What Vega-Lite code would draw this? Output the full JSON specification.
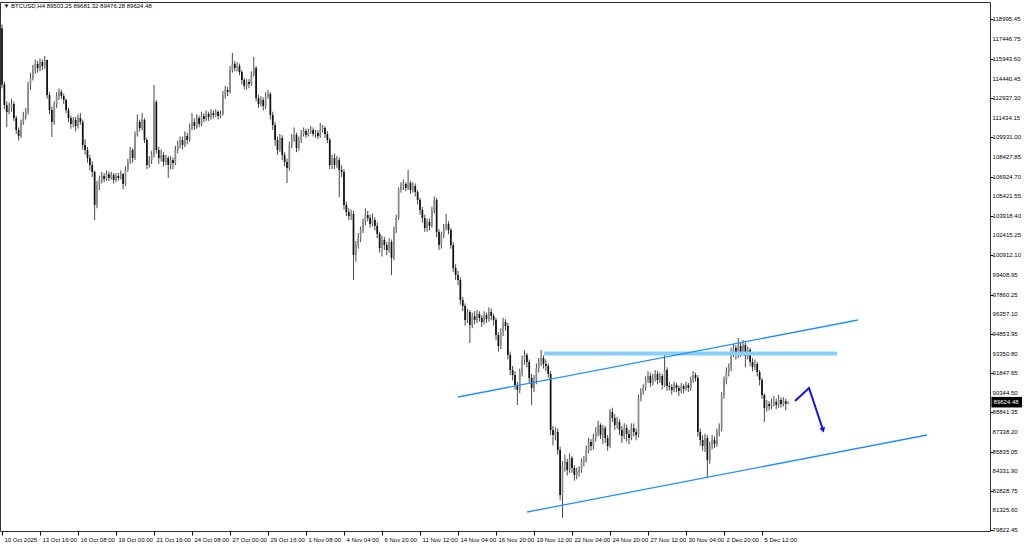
{
"$schema":"https://vega.github.io/schema/vega-lite/v6.json",
"width":990,"height":529,
"autosize":{"type":"none"},
"padding":{"left":0,"top":2,"right":34,"bottom":14},
"background":"white",
"config":{"view":{"stroke":"#333","strokeWidth":1},"font":"Liberation Sans","axis":{"labelFont":"Liberation Sans","labelFontSize":6,"labelColor":"#000","tickColor":"#000","domain":false,"grid":false,"title":null,"labelOverlap":false}},
"datasets":{
"bars":[
{"i":0,"o":118300,"h":118600,"l":113700,"c":114000},
{"i":1,"o":114000,"h":114200,"l":112100,"c":112420},
{"i":2,"o":112420,"h":112700,"l":110730,"c":111883},
{"i":3,"o":111883,"h":112600,"l":111700,"c":112190},
{"i":4,"o":112190,"h":112900,"l":111900,"c":112496},
{"i":5,"o":112496,"h":112700,"l":111200,"c":111423},
{"i":6,"o":111423,"h":111600,"l":110200,"c":110502},
{"i":7,"o":110502,"h":110700,"l":109700,"c":110042},
{"i":8,"o":110042,"h":111300,"l":109900,"c":111116},
{"i":9,"o":111116,"h":111900,"l":110900,"c":111576},
{"i":10,"o":111576,"h":112200,"l":111300,"c":111883},
{"i":11,"o":111883,"h":114200,"l":111700,"c":113953},
{"i":12,"o":113953,"h":114900,"l":113600,"c":114491},
{"i":13,"o":114491,"h":115500,"l":114300,"c":115104},
{"i":14,"o":115104,"h":115900,"l":114800,"c":115564},
{"i":15,"o":115564,"h":115800,"l":114900,"c":115257},
{"i":16,"o":115257,"h":116000,"l":115000,"c":115718},
{"i":17,"o":115718,"h":115900,"l":115100,"c":115411},
{"i":18,"o":115411,"h":116180,"l":115200,"c":115871},
{"i":19,"o":115871,"h":115900,"l":112900,"c":113187},
{"i":20,"o":113187,"h":113400,"l":111700,"c":112036},
{"i":21,"o":112036,"h":112300,"l":109966,"c":111116},
{"i":22,"o":111116,"h":112700,"l":110900,"c":112496},
{"i":23,"o":112496,"h":113400,"l":112200,"c":113110},
{"i":24,"o":113110,"h":113700,"l":112800,"c":113417},
{"i":25,"o":113417,"h":113600,"l":112900,"c":113110},
{"i":26,"o":113110,"h":113300,"l":112500,"c":112803},
{"i":27,"o":112803,"h":112900,"l":111800,"c":112036},
{"i":28,"o":112036,"h":112200,"l":111100,"c":111423},
{"i":29,"o":111423,"h":111600,"l":110600,"c":110962},
{"i":30,"o":110962,"h":111500,"l":110700,"c":111269},
{"i":31,"o":111269,"h":111500,"l":110400,"c":110809},
{"i":32,"o":110809,"h":111700,"l":110600,"c":111423},
{"i":33,"o":111423,"h":111800,"l":110900,"c":111116},
{"i":34,"o":111116,"h":111300,"l":109000,"c":109352},
{"i":35,"o":109352,"h":109800,"l":108600,"c":108968},
{"i":36,"o":108968,"h":109200,"l":108000,"c":108355},
{"i":37,"o":108355,"h":108600,"l":107400,"c":107818},
{"i":38,"o":107818,"h":108100,"l":106900,"c":107281},
{"i":39,"o":107281,"h":107400,"l":103599,"c":104750},
{"i":40,"o":104750,"h":106600,"l":104500,"c":106284},
{"i":41,"o":106284,"h":107000,"l":105900,"c":106667},
{"i":42,"o":106667,"h":107300,"l":106400,"c":106974},
{"i":43,"o":106974,"h":107200,"l":106500,"c":106744},
{"i":44,"o":106744,"h":107400,"l":106600,"c":107127},
{"i":45,"o":107127,"h":107300,"l":106600,"c":106821},
{"i":46,"o":106821,"h":107300,"l":106700,"c":107051},
{"i":47,"o":107051,"h":107200,"l":106400,"c":106667},
{"i":48,"o":106667,"h":107200,"l":106500,"c":106974},
{"i":49,"o":106974,"h":107200,"l":106600,"c":106821},
{"i":50,"o":106821,"h":107400,"l":106700,"c":107127},
{"i":51,"o":107127,"h":107200,"l":105950,"c":106360},
{"i":52,"o":106360,"h":107700,"l":106200,"c":107434},
{"i":53,"o":107434,"h":108300,"l":107300,"c":108048},
{"i":54,"o":108048,"h":109200,"l":107900,"c":108968},
{"i":55,"o":108968,"h":109100,"l":108000,"c":108355},
{"i":56,"o":108355,"h":110400,"l":108200,"c":110119},
{"i":57,"o":110119,"h":111700,"l":110000,"c":111116},
{"i":58,"o":111116,"h":111300,"l":110400,"c":110655},
{"i":59,"o":110655,"h":111800,"l":110500,"c":111269},
{"i":60,"o":111269,"h":111400,"l":109500,"c":109735},
{"i":61,"o":109735,"h":109900,"l":107500,"c":107818},
{"i":62,"o":107818,"h":108500,"l":107600,"c":108201},
{"i":63,"o":108201,"h":108900,"l":107900,"c":108585},
{"i":64,"o":108585,"h":113953,"l":108400,"c":112650},
{"i":65,"o":112650,"h":112800,"l":108700,"c":108968},
{"i":66,"o":108968,"h":109200,"l":107900,"c":108355},
{"i":67,"o":108355,"h":109000,"l":108100,"c":108585},
{"i":68,"o":108585,"h":108800,"l":107700,"c":108048},
{"i":69,"o":108048,"h":108600,"l":107800,"c":108355},
{"i":70,"o":108355,"h":108500,"l":106821,"c":107818},
{"i":71,"o":107818,"h":108500,"l":107500,"c":108201},
{"i":72,"o":108201,"h":108400,"l":107500,"c":107971},
{"i":73,"o":107971,"h":109300,"l":107800,"c":108968},
{"i":74,"o":108968,"h":109700,"l":108700,"c":109352},
{"i":75,"o":109352,"h":110000,"l":109100,"c":109735},
{"i":76,"o":109735,"h":110000,"l":109000,"c":109352},
{"i":77,"o":109352,"h":110400,"l":109200,"c":110042},
{"i":78,"o":110042,"h":110300,"l":109400,"c":109735},
{"i":79,"o":109735,"h":111000,"l":109600,"c":110655},
{"i":80,"o":110655,"h":111800,"l":110500,"c":111116},
{"i":81,"o":111116,"h":111400,"l":110500,"c":110809},
{"i":82,"o":110809,"h":111700,"l":110600,"c":111423},
{"i":83,"o":111423,"h":111600,"l":110700,"c":110962},
{"i":84,"o":110962,"h":111900,"l":110800,"c":111576},
{"i":85,"o":111576,"h":111800,"l":111100,"c":111346},
{"i":86,"o":111346,"h":112000,"l":111200,"c":111729},
{"i":87,"o":111729,"h":111900,"l":111200,"c":111499},
{"i":88,"o":111499,"h":112100,"l":111300,"c":111806},
{"i":89,"o":111806,"h":112000,"l":111400,"c":111653},
{"i":90,"o":111653,"h":112100,"l":111500,"c":111883},
{"i":91,"o":111883,"h":112000,"l":111300,"c":111576},
{"i":92,"o":111576,"h":112000,"l":111400,"c":111729},
{"i":93,"o":111729,"h":113500,"l":111600,"c":113187},
{"i":94,"o":113187,"h":113900,"l":112900,"c":113570},
{"i":95,"o":113570,"h":113800,"l":113100,"c":113417},
{"i":96,"o":113417,"h":115400,"l":113300,"c":115104},
{"i":97,"o":115104,"h":116408,"l":114900,"c":115564},
{"i":98,"o":115564,"h":115800,"l":115000,"c":115257},
{"i":99,"o":115257,"h":115700,"l":115000,"c":115411},
{"i":100,"o":115411,"h":115600,"l":114700,"c":114951},
{"i":101,"o":114951,"h":115100,"l":114000,"c":114337},
{"i":102,"o":114337,"h":114500,"l":113600,"c":113877},
{"i":103,"o":113877,"h":114400,"l":113600,"c":114184},
{"i":104,"o":114184,"h":114400,"l":113700,"c":114030},
{"i":105,"o":114030,"h":115000,"l":113900,"c":114720},
{"i":106,"o":114720,"h":116101,"l":114600,"c":115257},
{"i":107,"o":115257,"h":115400,"l":112700,"c":112957},
{"i":108,"o":112957,"h":113200,"l":112200,"c":112496},
{"i":109,"o":112496,"h":113100,"l":112300,"c":112803},
{"i":110,"o":112803,"h":113000,"l":112000,"c":112343},
{"i":111,"o":112343,"h":113400,"l":112100,"c":113110},
{"i":112,"o":113110,"h":113570,"l":112900,"c":113263},
{"i":113,"o":113263,"h":113400,"l":111300,"c":111653},
{"i":114,"o":111653,"h":111900,"l":110500,"c":110886},
{"i":115,"o":110886,"h":111100,"l":109300,"c":109735},
{"i":116,"o":109735,"h":110000,"l":108600,"c":108968},
{"i":117,"o":108968,"h":110200,"l":108800,"c":109889},
{"i":118,"o":109889,"h":110100,"l":108200,"c":108585},
{"i":119,"o":108585,"h":108800,"l":107700,"c":108048},
{"i":120,"o":108048,"h":108300,"l":106437,"c":107588},
{"i":121,"o":107588,"h":109600,"l":107400,"c":109352},
{"i":122,"o":109352,"h":110200,"l":109100,"c":109889},
{"i":123,"o":109889,"h":110700,"l":109600,"c":110119},
{"i":124,"o":110119,"h":110300,"l":108800,"c":109122},
{"i":125,"o":109122,"h":110000,"l":108900,"c":109735},
{"i":126,"o":109735,"h":110500,"l":109500,"c":110195},
{"i":127,"o":110195,"h":110700,"l":110000,"c":110425},
{"i":128,"o":110425,"h":110600,"l":109900,"c":110119},
{"i":129,"o":110119,"h":110600,"l":110000,"c":110349},
{"i":130,"o":110349,"h":110800,"l":110200,"c":110502},
{"i":131,"o":110502,"h":110700,"l":110000,"c":110195},
{"i":132,"o":110195,"h":110500,"l":109900,"c":110272},
{"i":133,"o":110272,"h":110500,"l":109800,"c":110042},
{"i":134,"o":110042,"h":111039,"l":109900,"c":110502},
{"i":135,"o":110502,"h":110900,"l":110300,"c":110655},
{"i":136,"o":110655,"h":110800,"l":109900,"c":110195},
{"i":137,"o":110195,"h":110400,"l":109500,"c":109735},
{"i":138,"o":109735,"h":109900,"l":107500,"c":107818},
{"i":139,"o":107818,"h":108600,"l":107500,"c":108355},
{"i":140,"o":108355,"h":108700,"l":107500,"c":107818},
{"i":141,"o":107818,"h":108500,"l":107600,"c":108201},
{"i":142,"o":108201,"h":108400,"l":105364,"c":107434},
{"i":143,"o":107434,"h":107800,"l":106900,"c":107281},
{"i":144,"o":107281,"h":107500,"l":104400,"c":104750},
{"i":145,"o":104750,"h":105000,"l":103900,"c":104213},
{"i":146,"o":104213,"h":104500,"l":103600,"c":103906},
{"i":147,"o":103906,"h":104400,"l":103600,"c":104059},
{"i":148,"o":104059,"h":104300,"l":98997,"c":100915},
{"i":149,"o":100915,"h":102000,"l":100400,"c":101681},
{"i":150,"o":101681,"h":102600,"l":101400,"c":102219},
{"i":151,"o":102219,"h":103100,"l":101900,"c":102832},
{"i":152,"o":102832,"h":103700,"l":102600,"c":103446},
{"i":153,"o":103446,"h":104500,"l":103200,"c":103983},
{"i":154,"o":103983,"h":104300,"l":103500,"c":103753},
{"i":155,"o":103753,"h":104000,"l":103000,"c":103292},
{"i":156,"o":103292,"h":104100,"l":103100,"c":103599},
{"i":157,"o":103599,"h":103800,"l":102800,"c":103139},
{"i":158,"o":103139,"h":103400,"l":102200,"c":102525},
{"i":159,"o":102525,"h":102700,"l":101100,"c":101451},
{"i":160,"o":101451,"h":102400,"l":100800,"c":102065},
{"i":161,"o":102065,"h":102300,"l":101300,"c":101681},
{"i":162,"o":101681,"h":101900,"l":100900,"c":101298},
{"i":163,"o":101298,"h":102200,"l":101100,"c":101912},
{"i":164,"o":101912,"h":102100,"l":99381,"c":100685},
{"i":165,"o":100685,"h":103100,"l":100500,"c":102832},
{"i":166,"o":102832,"h":104000,"l":102600,"c":103753},
{"i":167,"o":103753,"h":106100,"l":103600,"c":105900},
{"i":168,"o":105900,"h":106500,"l":105700,"c":106207},
{"i":169,"o":106207,"h":106700,"l":105900,"c":106360},
{"i":170,"o":106360,"h":106500,"l":105800,"c":106054},
{"i":171,"o":106054,"h":107434,"l":105900,"c":106437},
{"i":172,"o":106437,"h":106600,"l":105600,"c":105900},
{"i":173,"o":105900,"h":106500,"l":105700,"c":106207},
{"i":174,"o":106207,"h":106400,"l":105400,"c":105747},
{"i":175,"o":105747,"h":105900,"l":104800,"c":105133},
{"i":176,"o":105133,"h":105300,"l":104000,"c":104366},
{"i":177,"o":104366,"h":104600,"l":103400,"c":103753},
{"i":178,"o":103753,"h":104000,"l":102700,"c":102985},
{"i":179,"o":102985,"h":103700,"l":102700,"c":103446},
{"i":180,"o":103446,"h":103700,"l":102800,"c":103139},
{"i":181,"o":103139,"h":104600,"l":103000,"c":104366},
{"i":182,"o":104366,"h":105400,"l":104100,"c":105133},
{"i":183,"o":105133,"h":105300,"l":102300,"c":102679},
{"i":184,"o":102679,"h":102900,"l":101300,"c":101681},
{"i":185,"o":101681,"h":102700,"l":101400,"c":102448},
{"i":186,"o":102448,"h":103300,"l":102200,"c":102985},
{"i":187,"o":102985,"h":104059,"l":102800,"c":103292},
{"i":188,"o":103292,"h":103500,"l":102500,"c":102832},
{"i":189,"o":102832,"h":103000,"l":101400,"c":101681},
{"i":190,"o":101681,"h":101900,"l":99600,"c":99917},
{"i":191,"o":99917,"h":100200,"l":99000,"c":99381},
{"i":192,"o":99381,"h":99700,"l":98600,"c":98997},
{"i":193,"o":98997,"h":99200,"l":97100,"c":97463},
{"i":194,"o":97463,"h":97700,"l":96600,"c":97003},
{"i":195,"o":97003,"h":97200,"l":95500,"c":95929},
{"i":196,"o":95929,"h":96800,"l":95700,"c":96543},
{"i":197,"o":96543,"h":96700,"l":94165,"c":95546},
{"i":198,"o":95546,"h":96500,"l":95300,"c":96236},
{"i":199,"o":96236,"h":96600,"l":95600,"c":95929},
{"i":200,"o":95929,"h":96700,"l":95700,"c":96390},
{"i":201,"o":96390,"h":96600,"l":95800,"c":96083},
{"i":202,"o":96083,"h":96300,"l":95400,"c":95776},
{"i":203,"o":95776,"h":96600,"l":95600,"c":96313},
{"i":204,"o":96313,"h":96500,"l":95700,"c":96006},
{"i":205,"o":96006,"h":96900,"l":95800,"c":96543},
{"i":206,"o":96543,"h":96800,"l":95900,"c":96236},
{"i":207,"o":96236,"h":96400,"l":95500,"c":95929},
{"i":208,"o":95929,"h":96100,"l":94400,"c":94779},
{"i":209,"o":94779,"h":95000,"l":93500,"c":93935},
{"i":210,"o":93935,"h":95300,"l":93700,"c":95009},
{"i":211,"o":95009,"h":96100,"l":94700,"c":95776},
{"i":212,"o":95776,"h":96000,"l":95100,"c":95469},
{"i":213,"o":95469,"h":95700,"l":92900,"c":93245},
{"i":214,"o":93245,"h":93500,"l":91700,"c":92094},
{"i":215,"o":92094,"h":92400,"l":91300,"c":91711},
{"i":216,"o":91711,"h":92000,"l":90600,"c":90944},
{"i":217,"o":90944,"h":91200,"l":89410,"c":90560},
{"i":218,"o":90560,"h":92200,"l":90300,"c":91941},
{"i":219,"o":91941,"h":93200,"l":91600,"c":92861},
{"i":220,"o":92861,"h":93600,"l":92500,"c":93245},
{"i":221,"o":93245,"h":93400,"l":92300,"c":92708},
{"i":222,"o":92708,"h":92900,"l":91100,"c":91481},
{"i":223,"o":91481,"h":91800,"l":89410,"c":90713},
{"i":224,"o":90713,"h":91700,"l":90400,"c":91327},
{"i":225,"o":91327,"h":92600,"l":91000,"c":92247},
{"i":226,"o":92247,"h":93000,"l":91900,"c":92708},
{"i":227,"o":92708,"h":93628,"l":92400,"c":93015},
{"i":228,"o":93015,"h":93200,"l":92200,"c":92555},
{"i":229,"o":92555,"h":92900,"l":92000,"c":92401},
{"i":230,"o":92401,"h":92600,"l":91500,"c":91788},
{"i":231,"o":91788,"h":92000,"l":87100,"c":87492},
{"i":232,"o":87492,"h":87800,"l":86300,"c":87109},
{"i":233,"o":87109,"h":87700,"l":86700,"c":87339},
{"i":234,"o":87339,"h":87600,"l":85600,"c":85958},
{"i":235,"o":85958,"h":86200,"l":82100,"c":82507},
{"i":236,"o":82507,"h":85100,"l":80743,"c":84808},
{"i":237,"o":84808,"h":85600,"l":84300,"c":85038},
{"i":238,"o":85038,"h":85300,"l":84000,"c":84424},
{"i":239,"o":84424,"h":85700,"l":84200,"c":85344},
{"i":240,"o":85344,"h":85500,"l":84200,"c":84577},
{"i":241,"o":84577,"h":84800,"l":83600,"c":84040},
{"i":242,"o":84040,"h":84600,"l":83700,"c":84270},
{"i":243,"o":84270,"h":84700,"l":83900,"c":84424},
{"i":244,"o":84424,"h":85300,"l":84200,"c":85038},
{"i":245,"o":85038,"h":85500,"l":84700,"c":85191},
{"i":246,"o":85191,"h":86300,"l":85000,"c":85958},
{"i":247,"o":85958,"h":86900,"l":85700,"c":86572},
{"i":248,"o":86572,"h":86800,"l":85900,"c":86265},
{"i":249,"o":86265,"h":87200,"l":86000,"c":86879},
{"i":250,"o":86879,"h":87700,"l":86600,"c":87339},
{"i":251,"o":87339,"h":88200,"l":87000,"c":87876},
{"i":252,"o":87876,"h":88000,"l":86800,"c":87109},
{"i":253,"o":87109,"h":87900,"l":86400,"c":87646},
{"i":254,"o":87646,"h":87800,"l":86500,"c":86879},
{"i":255,"o":86879,"h":87100,"l":85900,"c":86265},
{"i":256,"o":86265,"h":89100,"l":86100,"c":88873},
{"i":257,"o":88873,"h":89200,"l":88100,"c":88413},
{"i":258,"o":88413,"h":88700,"l":87500,"c":87876},
{"i":259,"o":87876,"h":88500,"l":87600,"c":88106},
{"i":260,"o":88106,"h":88300,"l":87100,"c":87492},
{"i":261,"o":87492,"h":87800,"l":86500,"c":87032},
{"i":262,"o":87032,"h":88000,"l":86800,"c":87646},
{"i":263,"o":87646,"h":87900,"l":86600,"c":87185},
{"i":264,"o":87185,"h":87500,"l":86400,"c":86879},
{"i":265,"o":86879,"h":88000,"l":86700,"c":87646},
{"i":266,"o":87646,"h":88000,"l":87000,"c":87339},
{"i":267,"o":87339,"h":87600,"l":86700,"c":87109},
{"i":268,"o":87109,"h":90200,"l":86900,"c":89947},
{"i":269,"o":89947,"h":90700,"l":89700,"c":90407},
{"i":270,"o":90407,"h":91000,"l":90200,"c":90713},
{"i":271,"o":90713,"h":91600,"l":90500,"c":91327},
{"i":272,"o":91327,"h":92000,"l":91100,"c":91635},
{"i":273,"o":91635,"h":91900,"l":90800,"c":91097},
{"i":274,"o":91097,"h":91800,"l":90900,"c":91481},
{"i":275,"o":91481,"h":92100,"l":91200,"c":91788},
{"i":276,"o":91788,"h":92000,"l":91000,"c":91327},
{"i":277,"o":91327,"h":91900,"l":91100,"c":91635},
{"i":278,"o":91635,"h":91800,"l":90600,"c":90944},
{"i":279,"o":90944,"h":93245,"l":90800,"c":92094},
{"i":280,"o":92094,"h":92300,"l":90500,"c":90867},
{"i":281,"o":90867,"h":91200,"l":90500,"c":90780},
{"i":282,"o":90780,"h":91000,"l":90200,"c":90560},
{"i":283,"o":90560,"h":91200,"l":90400,"c":90944},
{"i":284,"o":90944,"h":91100,"l":90400,"c":90713},
{"i":285,"o":90713,"h":90900,"l":90100,"c":90483},
{"i":286,"o":90483,"h":91100,"l":90300,"c":90867},
{"i":287,"o":90867,"h":91000,"l":90300,"c":90637},
{"i":288,"o":90637,"h":91200,"l":90500,"c":90944},
{"i":289,"o":90944,"h":91100,"l":90400,"c":90713},
{"i":290,"o":90713,"h":91600,"l":90500,"c":91327},
{"i":291,"o":91327,"h":92000,"l":91100,"c":91711},
{"i":292,"o":91711,"h":91900,"l":91200,"c":91481},
{"i":293,"o":91481,"h":91700,"l":87000,"c":87339},
{"i":294,"o":87339,"h":87600,"l":86300,"c":86725},
{"i":295,"o":86725,"h":87100,"l":85900,"c":86265},
{"i":296,"o":86265,"h":87200,"l":85800,"c":86879},
{"i":297,"o":86879,"h":87100,"l":83887,"c":85191},
{"i":298,"o":85191,"h":86600,"l":84900,"c":86342},
{"i":299,"o":86342,"h":87100,"l":86000,"c":86725},
{"i":300,"o":86725,"h":87000,"l":86100,"c":86419},
{"i":301,"o":86419,"h":87600,"l":86200,"c":87339},
{"i":302,"o":87339,"h":88000,"l":87000,"c":87646},
{"i":303,"o":87646,"h":90400,"l":87400,"c":90177},
{"i":304,"o":90177,"h":91600,"l":89900,"c":91327},
{"i":305,"o":91327,"h":92300,"l":91000,"c":91941},
{"i":306,"o":91941,"h":92600,"l":91600,"c":92247},
{"i":307,"o":92247,"h":93800,"l":92000,"c":93475},
{"i":308,"o":93475,"h":94100,"l":93100,"c":93782},
{"i":309,"o":93782,"h":94000,"l":92900,"c":93245},
{"i":310,"o":93245,"h":94549,"l":93000,"c":93935},
{"i":311,"o":93935,"h":94200,"l":93100,"c":93475},
{"i":312,"o":93475,"h":94400,"l":93200,"c":94012},
{"i":313,"o":94012,"h":94200,"l":92300,"c":93168},
{"i":314,"o":93168,"h":93900,"l":92900,"c":93628},
{"i":315,"o":93628,"h":93800,"l":92400,"c":92708},
{"i":316,"o":92708,"h":93000,"l":92000,"c":92324},
{"i":317,"o":92324,"h":92900,"l":92100,"c":92555},
{"i":318,"o":92555,"h":92700,"l":91600,"c":91941},
{"i":319,"o":91941,"h":92100,"l":90900,"c":91327},
{"i":320,"o":91327,"h":91500,"l":89900,"c":90177},
{"i":321,"o":90177,"h":90300,"l":88106,"c":89180},
{"i":322,"o":89180,"h":89800,"l":88900,"c":89486},
{"i":323,"o":89486,"h":89700,"l":89000,"c":89333},
{"i":324,"o":89333,"h":89900,"l":89100,"c":89563},
{"i":325,"o":89563,"h":90100,"l":89300,"c":89640},
{"i":326,"o":89640,"h":89900,"l":89100,"c":89410},
{"i":327,"o":89410,"h":90200,"l":89200,"c":89793},
{"i":328,"o":89793,"h":90000,"l":89200,"c":89486},
{"i":329,"o":89486,"h":90000,"l":89300,"c":89716},
{"i":330,"o":89716,"h":89900,"l":89000,"c":89503.25},
{"i":331,"o":89503.25,"h":89681.32,"l":89476.28,"c":89624.48}
],
"channel":[
{"g":"upper","i":192,"p":90023},{"g":"upper","i":360.4,"p":95929},
{"g":"lower","i":221.1,"p":81203},{"g":"lower","i":389.5,"p":87109}
],
"level":[{"i":228.2,"p":93350.8},{"i":351.6,"p":93350.8}],
"arrow":[{"i":333.9,"p":89716},{"i":339.8,"p":90713},{"i":345.7,"p":87492}],
"head":[{"i":345.7,"p":87492}],
"yt":[{"v":79822.45},{"v":81325.6},{"v":82828.75},{"v":84331.9},{"v":85835.05},{"v":87338.2},{"v":88841.35},{"v":90344.5},{"v":91847.65},{"v":93350.8},{"v":94853.95},{"v":96357.1},{"v":97860.25},{"v":99408.95},{"v":100912.1},{"v":102415.25},{"v":103918.4},{"v":105421.55},{"v":106924.7},{"v":108427.85},{"v":109931},{"v":111434.15},{"v":112937.3},{"v":114440.45},{"v":115943.6},{"v":117446.75},{"v":118995.45}],
"one":[{"k":1}]
},
"layer":[
{"data":{"name":"bars"},"mark":{"type":"rule","color":"#333","strokeWidth":0.9},
 "encoding":{
  "x":{"field":"i","type":"quantitative","scale":{"domain":[-0.84,416],"nice":false,"zero":false},
   "axis":{"orient":"bottom","values":[0,16,32,48,64,80,96,112,128,144,160,176,192,208,224,240,256,272,288,304,320],
    "labelExpr":"['10 Oct 2025','13 Oct 16:00','16 Oct 08:00','19 Oct 00:00','21 Oct 16:00','24 Oct 08:00','27 Oct 00:00','29 Oct 16:00','1 Nov 08:00','4 Nov 04:00','6 Nov 20:00','11 Nov 12:00','14 Nov 04:00','16 Nov 20:00','19 Nov 12:00','22 Nov 04:00','24 Nov 20:00','27 Nov 12:00','30 Nov 04:00','2 Dec 20:00','5 Dec 12:00'][round(datum.value/16)]",
    "labelAlign":"left","labelOffset":2,"tickSize":4,"labelPadding":1,"labelBaseline":"top","labelOverlap":false}},
  "y":{"field":"l","type":"quantitative","scale":{"domain":[79745,120320],"nice":false,"zero":false},
   "axis":{"orient":"right","values":[79822.45,81325.6,82828.75,84331.9,85835.05,87338.2,88841.35,90344.5,91847.65,93350.8,94853.95,96357.1,97860.25,99408.95,100912.1,102415.25,103918.4,105421.55,106924.7,108427.85,109931,111434.15,112937.3,114440.45,115943.6,117446.75,118995.45],
    "labels":false,"tickSize":3}},
  "y2":{"field":"h"}}},
{"data":{"name":"bars"},"mark":{"type":"rule","strokeWidth":1.7,"strokeCap":"butt"},
 "encoding":{
  "x":{"field":"i","type":"quantitative"},
  "y":{"field":"o","type":"quantitative"},
  "y2":{"field":"c"},
  "color":{"condition":{"test":"datum.c >= datum.o","value":"#8a8a8a"},"value":"#111111"}}},
{"data":{"name":"level"},"mark":{"type":"line","color":"#87CEFA","strokeWidth":4},
 "encoding":{"x":{"field":"i","type":"quantitative"},"y":{"field":"p","type":"quantitative"}}},
{"data":{"name":"channel"},"mark":{"type":"line","color":"#1E90FF","strokeWidth":1.3},
 "encoding":{"x":{"field":"i","type":"quantitative"},"y":{"field":"p","type":"quantitative"},"detail":{"field":"g"}}},
{"data":{"name":"arrow"},"mark":{"type":"line","color":"#1010F0","strokeWidth":2},
 "encoding":{"x":{"field":"i","type":"quantitative"},"y":{"field":"p","type":"quantitative"}}},
{"data":{"name":"head"},"mark":{"type":"point","shape":"triangle-down","filled":true,"color":"#1010F0","size":35,"angle":342,"opacity":1},
 "encoding":{"x":{"field":"i","type":"quantitative"},"y":{"field":"p","type":"quantitative"}}},
{"data":{"name":"yt"},"mark":{"type":"text","color":"#000","fontSize":6,"align":"left","baseline":"middle","font":"Liberation Sans"},
 "encoding":{"x":{"datum":417.1},"y":{"field":"v","type":"quantitative"},"text":{"field":"v","type":"quantitative","format":".2f"}}},
{"data":{"name":"one"},"mark":{"type":"rect","color":"#000"},
 "encoding":{"x":{"datum":416.6},"x2":{"datum":429.5},"y":{"datum":89220},"y2":{"datum":90030}}},
{"data":{"name":"one"},"mark":{"type":"text","text":"89624.48","color":"#fff","fontSize":6,"align":"left","baseline":"middle","font":"Liberation Sans"},
 "encoding":{"x":{"datum":417.5},"y":{"datum":89624.48}}},
{"data":{"name":"one"},"mark":{"type":"text","text":"▼  BTCUSD,H4  89503.25 89681.32 89476.28 89624.48","color":"#000","fontSize":6,"align":"left","baseline":"middle","font":"Liberation Sans"},
 "encoding":{"x":{"datum":0.6},"y":{"datum":120013}}}
]
}
